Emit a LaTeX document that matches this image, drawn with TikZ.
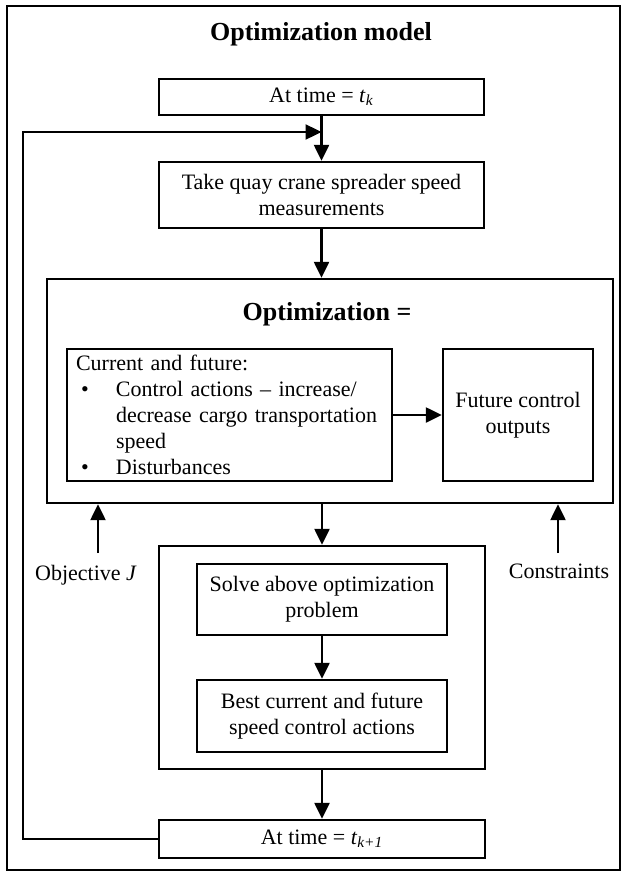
\documentclass[tikz,border=0pt]{standalone}
\usepackage{fontspec}
\setmainfont{Liberation Serif}
\usetikzlibrary{arrows.meta}

\begin{document}
\begin{tikzpicture}[x=0.5pt,y=-0.5pt,
  font=\fontsize{11}{13}\selectfont,
  >={Triangle[length=8pt,width=7.5pt]},
  box/.style={draw,line width=1.2pt,align=center,inner sep=0pt},
  head/.style={font=\fontsize{13}{15}\selectfont\bfseries},
  link/.style={->,line width=1.2pt}]
  \useasboundingbox (0,0) rectangle (623,873);
  % outer frame
  \draw[line width=0.8pt] (7,6) rectangle (620,870);
  \node[head] (title) at (321,34) {Optimization model};
  % time step k and measurements
  \node[box,minimum width=162.5pt,minimum height=18pt] (tk) at (321.5,97)
    {At time = \textit{t}\textsubscript{\textit{k}}};
  \node[box,minimum width=162.5pt,minimum height=33pt] (meas) at (321.5,195)
    {Take quay crane spreader speed\\measurements};
  % optimization block
  \node[box,minimum width=283pt,minimum height=112pt] (opt) at (330,391) {};
  \node[head] (optlbl) at (327,314) {Optimization =};
  \node[box,minimum width=162.5pt,minimum height=66pt,align=left,
        text width=153.5pt,inner xsep=4.5pt] (cur) at (229.5,415)
    {Current and future:\\
     \hspace*{2.5pt}\makebox[17.5pt][l]{\textbullet}Control actions – increase/\\
     \hspace*{20pt}decrease cargo transportation\\
     \hspace*{20pt}speed\\
     \hspace*{2.5pt}\makebox[17.5pt][l]{\textbullet}Disturbances};
  \node[box,minimum width=75pt,minimum height=66pt] (fut) at (518,415)
    {Future control\\outputs};
  % solver block
  \node[box,minimum width=163pt,minimum height=111.5pt] (solver) at (322,657.5) {};
  \node[box,minimum width=125pt,minimum height=35.5pt] (solve) at (322,599.5)
    {Solve above optimization\\problem};
  \node[box,minimum width=125pt,minimum height=36pt] (best) at (322,716)
    {Best current and future\\speed control actions};
  % time step k+1
  \node[box,minimum width=163pt,minimum height=19pt] (tk1) at (322,839)
    {At time = \textit{t}\textsubscript{\textit{k+1}}};
  % inputs
  \node (obj) at (86,575) {Objective \textit{J}};
  \node (cons) at (559,571) {Constraints};
  \coordinate (objtail) at (98,553);
  \coordinate (constail) at (558,553);
  \coordinate (fb) at (23,132);
  % connectors
  \draw[link] (tk) -- (meas);
  \draw[link] (meas.south) -- (meas.south |- opt.north);
  \draw[link] (cur) -- (fut);
  \draw[link] (solver.north |- opt.south) -- (solver.north);
  \draw[link] (solve) -- (best);
  \draw[link] (solver) -- (tk1);
  \draw[link] (objtail) -- (objtail |- opt.south);
  \draw[link] (constail) -- (constail |- opt.south);
  \draw[link] (tk1.west) -| (fb) -- (tk.south |- fb);
\end{tikzpicture}
\end{document}
